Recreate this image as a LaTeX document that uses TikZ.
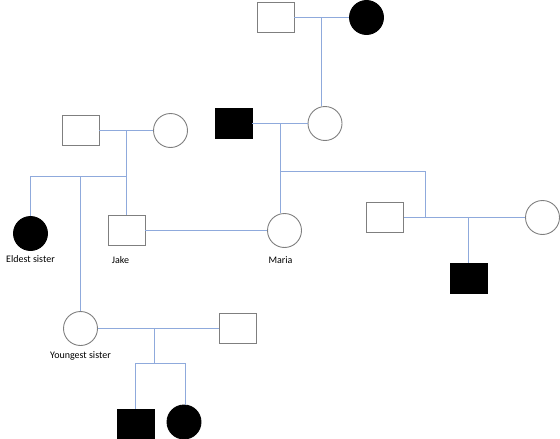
\documentclass[tikz,border=0pt]{standalone}
\usepackage{fontspec}
\setmainfont{Carlito}
\usepackage{xcolor}
\usetikzlibrary{positioning,calc}
\definecolor{linkblue}{RGB}{143,170,220}
\definecolor{edgegray}{RGB}{127,127,127}
\tikzset{
    male/.style={draw=edgegray, line width=0.9pt, rectangle, minimum width=37pt, minimum height=30pt, inner sep=0pt},
    female/.style={draw=edgegray, line width=0.9pt, circle, minimum size=34pt, inner sep=0pt},
    affected/.style={fill=black, draw=black},
    link/.style={draw=linkblue, line width=1.2pt},
    lbl/.style={font=\fontsize{10}{12}\selectfont, inner sep=0pt}
}

\begin{document}
\begin{tikzpicture}[x=1pt, y=-1pt]
        \useasboundingbox (0,0) rectangle (560,439);
        % Grandparents (mother's side)
        \node[male] (gpa) at (275.5,17.5) {};
        \node[female, affected] (gma) at (366.5,17.5) {};
        \node[male, affected] (dad) at (233.5,123.5) {};
        \node[female] (mom) at (325,123.5) {};
        % Grandparents (father's side)
        \node[male] (pgpa) at (80.5,130.5) {};
        \node[female] (pgma) at (170.5,130.5) {};
        % Children
        \node[female, affected] (eldest) at (30.5,233.5) {};
        \node[male] (jake) at (126.5,230.5) {};
        \node[female] (maria) at (284.5,230.5) {};
        \node[female] (youngest) at (80.5,328.5) {};
        \node[male] (husband) at (238,328.5) {};
        \node[male] (uncle) at (385,217.5) {};
        \node[female] (aunt) at (542.5,217.5) {};
        \node[male, affected] (cousin) at (468.5,278) {};
        \node[male, affected] (grandson) at (135.5,424) {};
        \node[female, affected] (granddaughter) at (184,422) {};
        % Labels
        \node[lbl, below=4pt of eldest] (lEldest) {Eldest sister};
        \node[lbl, below=10pt of jake, xshift=-6pt] (lJake) {Jake};
        \node[lbl, below=8pt of maria, xshift=-4pt] (lMaria) {Maria};
        \node[lbl, below=5pt of youngest] (lYoungest) {Youngest sister};
        % Couples
        \draw[link] (gpa) -- (gma);
        \draw[link] (dad) -- (mom);
        \draw[link] (pgpa) -- (pgma);
        \draw[link] (jake) -- (maria);
        \draw[link] (uncle) -- (aunt);
        \draw[link] (youngest) -- (husband);
        % Descent lines
        \coordinate (m1) at (321.5,17.5);
        \draw[link] (m1) -- (m1 |- mom.north);
        \coordinate (m2) at (280.5,123.5);
        \coordinate (j2) at (280.5,171.5);
        \coordinate (m3) at (425.5,217.5);
        \draw[link] (m2) -- (m2 |- maria.north);
        \draw[link] (j2) -| (m3);
        \coordinate (m4) at (468.5,217.5);
        \draw[link] (m4) -- (cousin.north);
        \coordinate (m5) at (126.5,130.5);
        \coordinate (j5) at (126.5,176.5);
        \draw[link] (m5) -- (jake.north);
        \draw[link] (j5) -| (eldest.north);
        \draw[link] (youngest.north) -- (youngest.north |- j5);
        \coordinate (m6) at (154.5,328.5);
        \coordinate (j6) at (154.5,363.5);
        \coordinate (j6r) at (185.5,363.5);
        \draw[link] (m6) -- (j6);
        \draw[link] (grandson.north) |- (j6r) -- (j6r |- granddaughter.north);
\end{tikzpicture}
\end{document}
